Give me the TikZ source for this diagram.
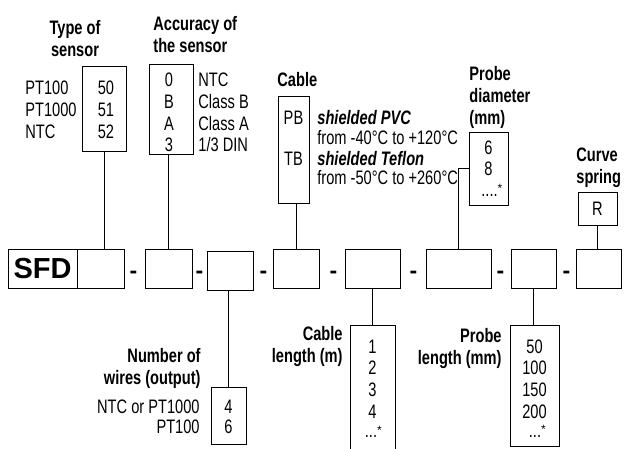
\documentclass[tikz,border=0pt]{standalone}
\usepackage{fontspec}
\setmainfont{Liberation Sans}[FakeStretch=0.75]
\newfontfamily\plainsans{Liberation Sans}
\usetikzlibrary{positioning}
\newcommand{\morestar}[1]{\raisebox{#1}{\plainsans\fontsize{12}{12}\selectfont*}}

\begin{document}
\begin{tikzpicture}[x=1pt, y=-1pt, line width=0.8pt,
    box/.style={draw, rectangle, inner sep=0, font=\fontsize{19.5}{22}\selectfont},
    cell/.style={box, minimum height=39pt},
    txt/.style={inner sep=0, anchor=base, font=\fontsize{19.5}{22}\selectfont},
    lbl/.style={inner sep=0, font=\fontsize{19.5}{22}\selectfont\bfseries},
    hyph/.style={txt, font=\plainsans\fontsize{23}{24}\selectfont\bfseries}]
    \clip (0,0) rectangle (633,448); \useasboundingbox (0,0) rectangle (633,448);

    \node [cell, minimum width=69pt] (sfd) at (42.5,268.5)
    {\plainsans\fontsize{29}{30}\selectfont\bfseries SFD}; \node [cell,
    minimum width=47pt, right=0pt of sfd] (m1) {};
    \foreach \nm/\cx/\w in {m2/168.5/47, m4/296/46, m5/372.5/55,
      m6/458.5/65, m7/533.5/45, m8/598.5/45}
    \node [cell, minimum width=\w pt] (\nm) at (\cx,268.5) {};
    \node [cell, minimum width=46pt] (m3) at (230,270.5) {};
    \foreach \dx in {133.5,199.5,263.5,333.5,413.5,500.5,566.5}
    \node [hyph] (d\dx) at (\dx,278.5) {-};

    \node [lbl, align=center, anchor=north] (tlbl) at (75,19.5) {Type of\\sensor};
    \node [box, minimum width=44pt, minimum height=85pt] (tbox) at (104,108.5) {};
    \foreach \v/\s [count=\i] in {50/PT100, 51/PT1000, 52/NTC} {
      \node [txt] (tv\i) at (106,{72+22*\i}) {\v}; \node [txt, anchor=base
      west] (ts\i) at (25,{72+22*\i}) {\s}; }

    \node [lbl, align=left, anchor=north west] (albl) at (153,15.5)
    {Accuracy of\\the sensor};
    \node [box, minimum width=44pt, minimum height=90pt] (abox) at (171,109) {};
    \foreach \v/\s [count=\i] in {0/NTC, B/Class B, A/Class A, 3/1\slash3 DIN} {
      \node [txt] (av\i) at (169,{65+21.7*\i}) {\v}; \node [txt, anchor=base
      west] (as\i) at (198,{65+21.7*\i}) {\s}; }

    \node [lbl, anchor=base west] (clbl) at (277,86) {Cable};
    \node [box, minimum width=31pt, minimum height=107pt] (cbox) at (293.5,149.5) {};
    \node [txt] (pb) at (293.5,124) {PB}; \node [txt] (tb) at (293.5,165) {TB};
    \node [txt, anchor=base west, font=\fontsize{19.5}{22}\selectfont\bfseries\itshape]
    (pvc) at (317,124) {shielded PVC}; \node [txt, anchor=base west]
    (pvct) at (317,144) {from -40°C to +120°C};
    \node [txt, anchor=base west, font=\fontsize{19.5}{22}\selectfont\bfseries\itshape]
    (tef) at (317,165) {shielded Teflon}; \node [txt, anchor=base west]
    (teft) at (317,184) {from -50°C to +260°C};

    \node [lbl, align=left, anchor=north west] (dlbl) at (469,65.5)
    {Probe\\diameter\\(mm)};
    \node [box, minimum width=39pt, minimum height=73pt] (dbox) at (488.5,168.5) {};
    \node [txt] (d6) at (488.5,154) {6}; \node [txt] (d8) at (488.5,175) {8};
    \node [txt, anchor=base west] (dmore) at (481,196) {....\morestar{4pt}};

    \node [lbl, align=left, anchor=north west] (slbl) at (576,147.5) {Curve\\spring};
    \node [box, minimum width=39pt, minimum height=33pt] (rbox) at (597.5,208.5) {R};

    \node [lbl, align=right, anchor=north east] (wlbl) at (201,347.5)
    {Number of\\wires (output)};
    \node [box, minimum width=35pt, minimum height=57pt] (wbox) at (228.5,415.5) {};
    \foreach \v/\s/\y in {4/NTC or PT1000/413, 6/PT100/433.5} {
      \node [txt] (wv\v) at (228.5,\y) {\v}; \node [txt, anchor=base east]
      (ws\v) at (200,\y) {\s}; }

    \node [lbl, align=right, anchor=north east] (llbl) at (343,325.5)
    {Cable\\length (m)};
    \node [box, minimum width=45pt, minimum height=140pt] (lbox) at (372.5,395) {};
    \foreach \v [count=\i] in {1,2,3,4}
    \node [txt] (lv\i) at (372.5,{331.3+21.7*\i}) {\v};
    \node [txt, anchor=base west] (lmore) at (364.5,437) {...\morestar{3pt}};

    \node [lbl, align=right, anchor=north east] (plbl) at (502,327.5)
    {Probe\\length (mm)};
    \node [box, minimum width=49pt, minimum height=121pt] (pbox) at (534.5,385.5) {};
    \foreach \v [count=\i] in {50,100,150,200}
    \node [txt] (pv\i) at (534.5,{331.3+21.7*\i}) {\v};
    \node [txt, anchor=base west] (pmore) at (528.5,437) {...\morestar{4pt}};

    \path (tbox.south) edge (tbox.south |- m1.north) (m2.north) edge (m2.north
    |- abox.south) (m4.north) edge (m4.north |- cbox.south) (rbox.south) edge
    (rbox.south |- m8.north) (wbox.north) edge (wbox.north |- m3.south)
    (m5.south) edge (lbox.north) (m7.south) edge (m7.south |- pbox.north);
    \draw (m6.north) |- (dbox.west);
\end{tikzpicture}
\end{document}
